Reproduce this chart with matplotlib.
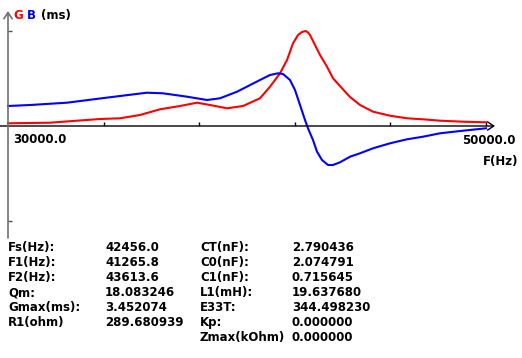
import numpy as np
import matplotlib.pyplot as plt

# Sweep readings: frequency [Hz], conductance G and susceptance B [ms]
freq_b = [30000, 30921, 32469, 33849, 34686, 35816, 36485, 37490, 38326, 38870,
          39582, 40544, 40962, 41297, 41506, 41799, 42008, 42218, 42427, 42552,
          42761, 42929, 43138, 43389, 43598, 43891, 44310, 44728, 45272, 45983,
          46695, 47364, 48075, 49038, 50000]
b_ms = [0.727, 0.763, 0.847, 0.999, 1.090, 1.210, 1.188, 1.065, 0.945, 1.007,
        1.246, 1.672, 1.853, 1.915, 1.890, 1.672, 1.308, 0.763, 0.218, -0.084,
        -0.509, -0.934, -1.235, -1.417, -1.417, -1.319, -1.116, -0.992, -0.810, -0.629,
        -0.483, -0.389, -0.265, -0.171, -0.084]

freq_g = [30000, 31757, 33849, 34686, 35523, 36360, 37197, 37908, 38452, 39163,
          39833, 40544, 40962, 41381, 41674, 41925, 42134, 42301, 42456, 42552,
          42636, 42845, 43054, 43347, 43598, 43975, 44310, 44728, 45272, 45983,
          46695, 47364, 48075, 49038, 50000]
g_ms = [0.098, 0.120, 0.254, 0.280, 0.400, 0.607, 0.727, 0.847, 0.763, 0.643,
        0.727, 1.007, 1.428, 1.915, 2.398, 3.005, 3.307, 3.416, 3.452, 3.398,
        3.307, 2.943, 2.580, 2.155, 1.733, 1.370, 1.054, 0.763, 0.520, 0.374,
        0.280, 0.243, 0.193, 0.156, 0.134]

x_ticks = [30000, 34000, 38000, 42000, 46000, 50000]
gmax = 3.452074

# Result table
labels_left = ['Fs(Hz):', 'F1(Hz):', 'F2(Hz):', 'Qm:', 'Gmax(ms):', 'R1(ohm)']
values_left = ['42456.0', '41265.8', '43613.6', '18.083246', '3.452074', '289.680939']
labels_right = ['CT(nF):', 'C0(nF):', 'C1(nF):', 'L1(mH):', 'E33T:', 'Kp:', 'Zmax(kOhm)']
values_right = ['2.790436', '2.074791', '0.715645', '19.637680', '344.498230',
                '0.000000', '0.000000']

# Layout in pixels
W, H = 522, 358
x0_px, x1_px = 8, 486
zero_px = 126
tick_px = 95
hz_px = (x_ticks[-1] - x_ticks[0]) / (x1_px - x0_px)
ms_px = gmax / tick_px

fig = plt.figure(figsize=(W / 100, H / 100), dpi=100)
ax = fig.add_axes([0, 0, 1, 1])
ax.axis('off')
ax.set_xlim(x_ticks[0] - x0_px * hz_px, x_ticks[0] + (W - x0_px) * hz_px)
ax.set_ylim(-(H - zero_px) * ms_px, zero_px * ms_px)

# axes with open arrow heads
ax.annotate('', xy=(x_ticks[-1] + 9 * hz_px, 0), xytext=(ax.get_xlim()[0], 0),
            arrowprops=dict(arrowstyle='->,head_length=0.45,head_width=0.3',
                            lw=1, color='black', shrinkA=0, shrinkB=0))
ax.annotate('', xy=(x_ticks[0], (zero_px - 11) * ms_px),
            xytext=(x_ticks[0], (zero_px - 238) * ms_px),
            arrowprops=dict(arrowstyle='->,head_length=0.45,head_width=0.3',
                            lw=1.2, color='#707070', shrinkA=0, shrinkB=0))
ax.vlines(x_ticks[1:], 0, 4 * ms_px, color='black', lw=1)
ax.hlines([gmax, -gmax], x_ticks[0], x_ticks[0] + 4 * hz_px, color='#505050', lw=1)

ax.plot(freq_g, g_ms, color='#ff0000', lw=1.5, solid_joinstyle='round')
ax.plot(freq_b, b_ms, color='#0000ff', lw=1.5, solid_joinstyle='round')

font = dict(family='DejaVu Sans', weight='bold', size=8.5)


def put(x, y, s, color='black', ha='left'):
    fig.text(x / W, 1 - y / H, s, color=color, ha=ha, va='baseline', **font)


put(13, 19, 'G', '#ff0000')
put(27, 19, 'B', '#0000ff')
put(41, 19, '(ms)')
put(13, 143, '30000.0')
put(516, 143.5, '50000.0', ha='right')
put(518, 165, 'F(Hz)', ha='right')

for i in range(len(labels_left)):
    put(8, 251 + 15 * i, labels_left[i])
    put(105, 251 + 15 * i, values_left[i])
for i in range(len(labels_right)):
    put(200, 251 + 15 * i, labels_right[i])
    put(292, 251 + 15 * i, values_right[i])

fig.savefig('out.png', dpi=100)
